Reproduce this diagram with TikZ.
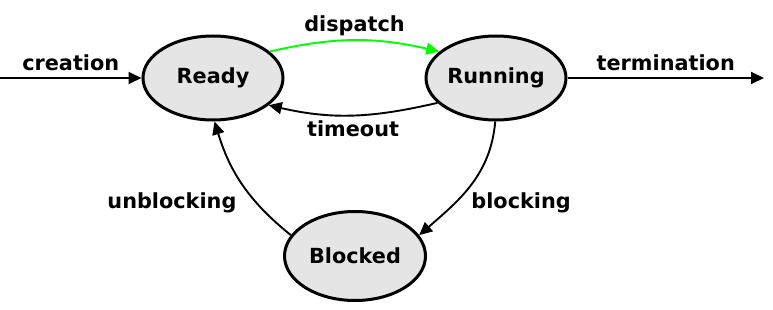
\documentclass[tikz,border=0pt]{standalone}
\usepackage{fontspec}
\setmainfont{DejaVu Sans}
\usetikzlibrary{shapes.geometric, arrows.meta}

\begin{document}
\begin{tikzpicture}[x=1pt, y=1pt, font=\fontsize{20.8}{25}\selectfont\bfseries,
  state/.style={ellipse, draw, line width=3pt, fill=black!10, minimum width=140pt, minimum height=84pt, inner sep=0pt},
  trans/.style={line width=1.9pt, -{Triangle[length=13pt, width=12pt]}},
  lbl/.style={inner sep=2pt}]
  \useasboundingbox (0,0) rectangle (773,-310);
  % states
  \node[state] (ready) at (213,-78) {Ready};
  \node[state] (running) at (496,-78) {Running};
  \node[state, minimum width=141pt, minimum height=89pt] (blocked) at (355,-256) {Blocked};
  % free ends
  \coordinate (start) at (0,-78);
  \coordinate (end) at (764,-78);
  % transitions
  \draw[trans] (start) -- node[lbl, above=4pt] {creation} (ready);
  \draw[trans] (running) -- node[lbl, above=4pt] {termination} (end);
  \draw[trans, green] (ready.25) to[out=13, in=167] node[lbl, above=2pt, black] {dispatch} (running.155);
  \draw[trans] (running.203) to[out=193, in=347] node[lbl, below=3pt] {timeout} (ready.334);
  \draw[trans] (running.269) to[out=265, in=41] node[lbl, right=14pt, pos=0.68] {blocking} (blocked.18);
  \draw[trans] (blocked.162) to[out=141, in=287] node[lbl, left=17pt, pos=0.33] {unblocking} (ready.272);
\end{tikzpicture}
\end{document}
